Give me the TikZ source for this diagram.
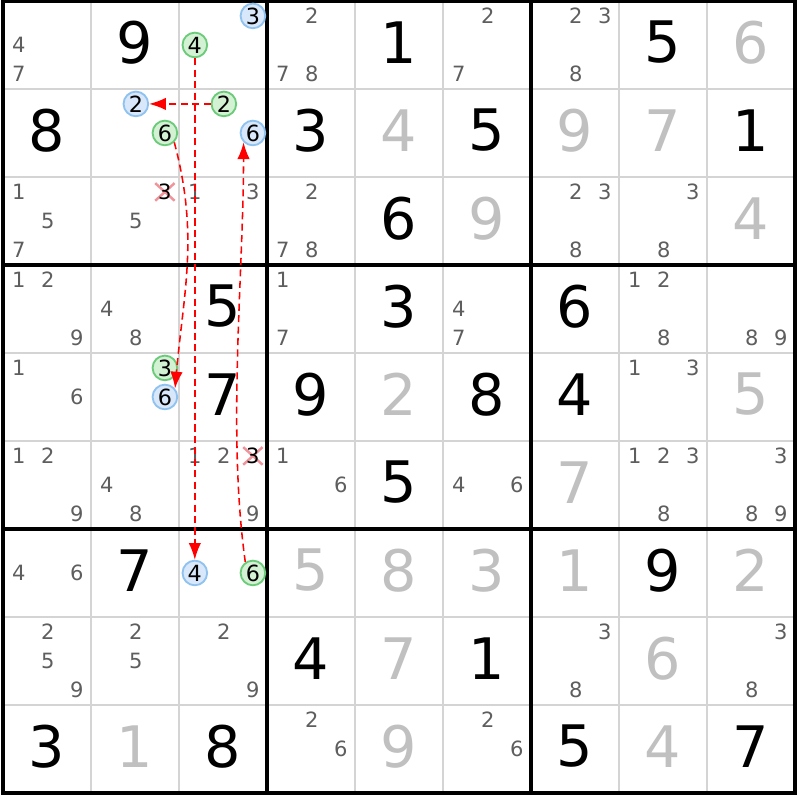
\documentclass[tikz,border=0pt]{standalone}
\usepackage{fontspec}
\setmainfont{DejaVu Sans}
\usepackage{tikz}
\usetikzlibrary{arrows.meta}

\definecolor{candgray}{HTML}{5E5E5E}
\definecolor{solvedgray}{HTML}{C0C0C0}
\definecolor{thingrid}{HTML}{D4D4D4}
\definecolor{bluefill}{HTML}{D8E8FA}
\definecolor{bluedraw}{HTML}{90C2F0}
\definecolor{greenfill}{HTML}{D3F2D3}
\definecolor{greendraw}{HTML}{6CCB7A}
\definecolor{crossred}{HTML}{F0949C}

\begin{document}
\begin{tikzpicture}[x=1 cm, y=1 cm, >={Latex[length=5.4pt, width=4pt]}]
\tikzstyle{given} = [font=\fontsize{18.5}{18.5}\selectfont, text=black, inner sep=0 pt]
\tikzstyle{solved} = [given, text=solvedgray]
\tikzstyle{cand} = [font=\fontsize{6.8}{6.8}\selectfont, text=candgray, inner sep=0 pt]
\tikzstyle{marked} = [cand, text=black, font=\fontsize{7.2}{7.2}\selectfont, circle, minimum size=0.28 cm, line width=0.6 pt]
\tikzstyle{bluecand} = [marked, draw=bluedraw, fill=bluefill]
\tikzstyle{greencand} = [marked, draw=greendraw, fill=greenfill]
\tikzstyle{link} = [->, red, dash pattern=on 2.3 pt off 1.4 pt, line width=0.5 pt]
\tikzstyle{cross} = [draw=crossred, line width=0.8 pt]

\fill[white] (-0.034,0.011) rectangle (9.057,-9.08);
\useasboundingbox (-0.034,0.011) rectangle (9.057,-9.08);

% grid
\foreach \i in {1,...,8} {
  \draw[thingrid, line width=0.6 pt] (\i,0) -- (\i,-9);
  \draw[thingrid, line width=0.6 pt] (0,-\i) -- (9,-\i);
}
\foreach \i in {3,6} {
  \draw[line width=1.1 pt] (\i,0) -- (\i,-9);
  \draw[line width=1.1 pt] (0,-\i) -- (9,-\i);
}
\draw[line width=1.1 pt] (0,0) rectangle (9,-9);

% givens and solved cells
\foreach \row/\col/\d in {1/2/9, 1/5/1, 1/8/5, 2/1/8, 2/4/3, 2/6/5, 2/9/1, 3/5/6, 4/3/5, 4/5/3, 4/7/6,
    5/3/7, 5/4/9, 5/6/8, 5/7/4, 6/5/5, 7/2/7, 7/8/9, 8/4/4, 8/6/1, 9/1/3, 9/3/8, 9/7/5, 9/9/7}
  \node[given] (g\row\col) at (\col-0.5, -\row+0.53) {\d};
\foreach \row/\col/\d in {1/9/6, 2/5/4, 2/7/9, 2/8/7, 3/6/9, 3/9/4, 5/5/2, 5/9/5, 6/7/7,
    7/4/5, 7/5/8, 7/6/3, 7/7/1, 7/9/2, 8/5/7, 8/8/6, 9/2/1, 9/5/9, 9/8/4}
  \node[solved] (g\row\col) at (\col-0.5, -\row+0.53) {\d};

% candidates
\foreach \row/\col/\k in {1/1/4, 1/1/7, 1/4/2, 1/4/7, 1/4/8, 1/6/2, 1/6/7, 1/7/2, 1/7/3, 1/7/8,
    3/1/1, 3/1/5, 3/1/7, 3/2/5, 3/3/1, 3/3/3, 3/4/2, 3/4/7, 3/4/8, 3/7/2, 3/7/3, 3/7/8, 3/8/3, 3/8/8,
    4/1/1, 4/1/2, 4/1/9, 4/2/4, 4/2/8, 4/4/1, 4/4/7, 4/6/4, 4/6/7, 4/8/1, 4/8/2, 4/8/8, 4/9/8, 4/9/9,
    5/1/1, 5/1/6, 5/8/1, 5/8/3,
    6/1/1, 6/1/2, 6/1/9, 6/2/4, 6/2/8, 6/3/1, 6/3/2, 6/3/9, 6/4/1, 6/4/6, 6/6/4, 6/6/6,
    6/8/1, 6/8/2, 6/8/3, 6/8/8, 6/9/3, 6/9/8, 6/9/9,
    7/1/4, 7/1/6,
    8/1/2, 8/1/5, 8/1/9, 8/2/2, 8/2/5, 8/3/2, 8/3/9, 8/7/3, 8/7/8, 8/9/3, 8/9/8,
    9/4/2, 9/4/6, 9/6/2, 9/6/6} {
  \pgfmathsetmacro\cx{\col-1+0.18+0.33*mod(\k-1,3)}
  \pgfmathsetmacro\cy{-(\row-1)-0.17-0.33*floor((\k-1)/3)}
  \node[cand] (n\row\col\k) at (\cx,\cy) {\k};
}

% marked candidates
\foreach \row/\col/\k/\kind in {1/3/3/bluecand, 1/3/4/greencand, 2/2/2/bluecand, 2/2/6/greencand,
    2/3/2/greencand, 2/3/6/bluecand, 5/2/3/greencand, 5/2/6/bluecand, 7/3/4/bluecand, 7/3/6/greencand} {
  \pgfmathsetmacro\cx{\col-1+0.18+0.33*mod(\k-1,3)}
  \pgfmathsetmacro\cy{-(\row-1)-0.17-0.33*floor((\k-1)/3)}
  \node[\kind] (n\row\col\k) at (\cx,\cy) {\k};
}

% eliminated candidates
\foreach \row/\col in {3/2, 6/3} {
  \coordinate (e\row\col) at (\col-1+0.84, -\row+1-0.17);
  \draw[cross] ([shift={(-0.11,-0.1)}]e\row\col) -- ([shift={(0.11,0.1)}]e\row\col);
  \draw[cross] ([shift={(-0.11,0.1)}]e\row\col) -- ([shift={(0.11,-0.1)}]e\row\col);
  \node[cand, text=black] (n\row\col3) at (e\row\col) {3};
}

% chain
\draw[link] (n134) -- (n734);
\draw[link] (n232) -- (n222);
\draw[link] (n226.-45) to[out=-75, in=85] (n526.40);
\draw[link] (n736.125) to[out=98, in=-90, looseness=0.8] (n236.-135);

\end{tikzpicture}
\end{document}
